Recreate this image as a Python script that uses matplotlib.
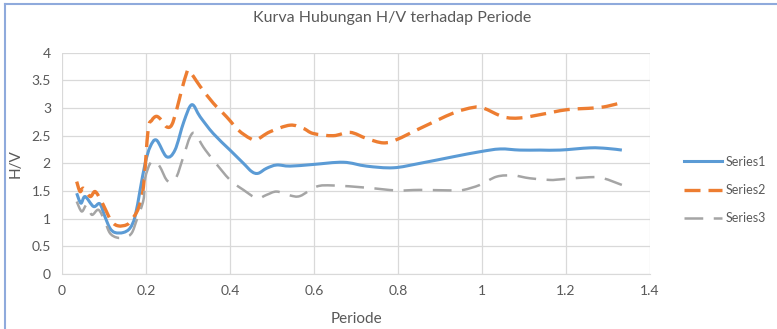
import numpy as np
import matplotlib.pyplot as plt
from matplotlib.lines import Line2D
from matplotlib.path import Path
from matplotlib.patches import PathPatch

# H/V values against period, three measurement series
periode1 = [0.035, 0.045, 0.055, 0.075, 0.090, 0.102, 0.114, 0.126, 0.146, 0.162, 0.174, 0.186,
            0.198, 0.210, 0.225, 0.249, 0.269, 0.290, 0.309, 0.329, 0.360, 0.400, 0.432, 0.452,
            0.467, 0.487, 0.511, 0.543, 0.598, 0.670, 0.725, 0.789, 0.852, 0.932, 0.995, 1.043,
            1.090, 1.138, 1.186, 1.257, 1.297, 1.333]
series1 = [1.46, 1.28, 1.40, 1.22, 1.27, 1.04, 0.83, 0.75, 0.75, 0.83, 1.04, 1.52,
           2.00, 2.30, 2.42, 2.12, 2.24, 2.75, 3.06, 2.84, 2.54, 2.24, 2.00, 1.85,
           1.82, 1.91, 1.97, 1.95, 1.98, 2.02, 1.95, 1.92, 2.00, 2.12, 2.21, 2.26,
           2.24, 2.24, 2.24, 2.28, 2.27, 2.24]

periode2 = [0.035, 0.043, 0.051, 0.067, 0.079, 0.094, 0.102, 0.118, 0.134, 0.154, 0.166, 0.182,
            0.194, 0.205, 0.214, 0.225, 0.237, 0.249, 0.261, 0.273, 0.285, 0.297, 0.301, 0.313,
            0.329, 0.360, 0.392, 0.420, 0.448, 0.464, 0.495, 0.543, 0.575, 0.598, 0.646, 0.686,
            0.725, 0.765, 0.797, 0.852, 0.932, 0.979, 1.003, 1.051, 1.090, 1.138, 1.202, 1.265,
            1.297, 1.333]
series2 = [1.67, 1.49, 1.55, 1.40, 1.49, 1.31, 1.19, 0.95, 0.87, 0.89, 0.98, 1.19,
           1.58, 2.60, 2.78, 2.85, 2.78, 2.66, 2.69, 2.97, 3.33, 3.64, 3.68, 3.57,
           3.39, 3.09, 2.84, 2.60, 2.45, 2.43, 2.57, 2.69, 2.63, 2.54, 2.50, 2.56,
           2.45, 2.37, 2.43, 2.63, 2.91, 3.01, 3.00, 2.84, 2.82, 2.88, 2.97, 3.00,
           3.03, 3.10]

periode3 = [0.035, 0.047, 0.059, 0.071, 0.087, 0.102, 0.114, 0.130, 0.150, 0.166, 0.178, 0.194,
            0.198, 0.210, 0.221, 0.233, 0.249, 0.261, 0.273, 0.289, 0.305, 0.317, 0.336, 0.360,
            0.400, 0.432, 0.464, 0.487, 0.511, 0.543, 0.567, 0.606, 0.646, 0.725, 0.797, 0.852,
            0.932, 0.956, 0.995, 1.035, 1.075, 1.114, 1.162, 1.186, 1.257, 1.289, 1.333]
series3 = [1.31, 1.13, 1.25, 1.07, 1.16, 0.95, 0.74, 0.66, 0.66, 0.74, 0.98, 1.34,
           1.73, 2.00, 2.03, 1.94, 1.70, 1.67, 1.76, 2.12, 2.48, 2.54, 2.30, 2.06,
           1.70, 1.52, 1.37, 1.43, 1.49, 1.42, 1.41, 1.58, 1.60, 1.56, 1.51, 1.52,
           1.51, 1.52, 1.61, 1.76, 1.78, 1.73, 1.70, 1.71, 1.75, 1.73, 1.61]

xticks = [0, 0.2, 0.4, 0.6, 0.8, 1, 1.2, 1.4]
xtick_labels = ['0', '0.2', '0.4', '0.6', '0.8', '1', '1.2', '1.4']
yticks = [0, 0.5, 1, 1.5, 2, 2.5, 3, 3.5, 4]
ytick_labels = ['0', '0.5', '1', '1.5', '2', '2.5', '3', '3.5', '4']

textColor = '#595959'
plt.rcParams['font.family'] = ['Lato', 'DejaVu Sans']


def smooth_path(x, y, tension=1 / 6):
    # Catmull-Rom style bezier through every point, like a smoothed spreadsheet line
    x = np.asarray(x, float)
    y = np.asarray(y, float)
    n = len(x)
    verts = [(x[0], y[0])]
    codes = [Path.MOVETO]
    for i in range(n - 1):
        p0 = max(i - 1, 0)
        p3 = min(i + 2, n - 1)
        c1 = (x[i] + (x[i + 1] - x[p0]) * tension, y[i] + (y[i + 1] - y[p0]) * tension)
        c2 = (x[i + 1] - (x[p3] - x[i]) * tension, y[i + 1] - (y[p3] - y[i]) * tension)
        verts += [c1, c2, (x[i + 1], y[i + 1])]
        codes += [Path.CURVE4] * 3
    return Path(verts, codes)


fig = plt.figure(figsize=(7.77, 3.29), dpi=100)
ax = fig.add_axes([62 / 777, 1 - 274 / 329, 588 / 777, (274 - 52.7) / 329])

styles = [
    (periode1, series1, 'Series1', dict(color='#5B9BD5', lw=2.2, ls='-')),
    (periode2, series2, 'Series2', dict(color='#ED7D31', lw=2.4, ls=(0, (4.8, 2.4)))),
    (periode3, series3, 'Series3', dict(color='#A5A5A5', lw=1.8, ls=(0, (7.5, 4.2)))),
]
handles = []
for px, py, name, st in styles:
    ax.add_patch(PathPatch(smooth_path(px, py), fill=False, edgecolor=st['color'],
                           lw=st['lw'], ls=st['ls'], capstyle='butt', joinstyle='round'))
    handles.append(Line2D([], [], color=st['color'], lw=st['lw'], ls=st['ls'], label=name))

ax.set_xlim(0, 1.4)
ax.set_ylim(0, 4)
ax.set_xticks(xticks, labels=xtick_labels)
ax.set_yticks(yticks, labels=ytick_labels)
ax.grid(True, color='#D9D9D9', lw=0.9)
ax.set_axisbelow(True)
for side in ['top', 'right', 'left']:
    ax.spines[side].set_visible(False)
ax.spines['bottom'].set_color('#D9D9D9')
ax.tick_params(length=0, labelsize=10, colors=textColor, pad=8)

ax.set_xlabel('Periode', fontsize=11, color=textColor, labelpad=11)
ax.set_ylabel('H/V', fontsize=11, color=textColor, labelpad=6)
fig.text(392 / 777, 1 - 18 / 329, 'Kurva Hubungan H/V terhadap Periode',
         ha='center', va='center', fontsize=11.5, color=textColor)

ax.legend(handles=handles, loc='center left', bbox_to_anchor=(617 / 588, 0.38), frameon=False,
          fontsize=9, labelcolor=textColor, handlelength=3.0, labelspacing=1.3,
          handletextpad=0.3, borderaxespad=0)

# thin blue frame along the top and left of the chart area
fig.add_artist(Line2D([5 / 777, 1], [1 - 3.5 / 329, 1 - 3.5 / 329], color='#8FAADC', lw=1.5))
fig.add_artist(Line2D([5 / 777, 5 / 777], [0, 1 - 3.5 / 329], color='#8FAADC', lw=1.5))

fig.savefig('out.png', dpi=100)
plt.close(fig)
